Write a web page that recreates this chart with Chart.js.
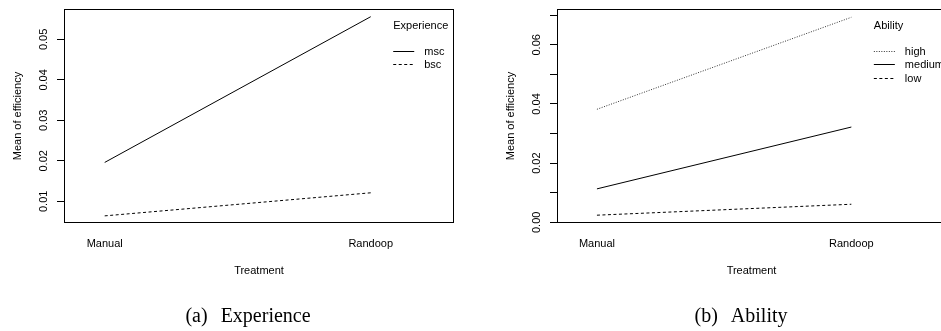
<!DOCTYPE html>
<html>
<head>
<meta charset="utf-8">
<script src="https://cdn.jsdelivr.net/npm/chart.js@4.4.1/dist/chart.umd.min.js"></script>
<style>
    html, body { margin: 0; padding: 0; background: #fff; overflow: hidden; }
    #wrap { position: relative; width: 941px; height: 331px; overflow: hidden; }
    canvas { position: absolute; top: 0; }
    #chart-exp { left: 0; }
    #chart-ability { left: 470px; }
    .cap {
        position: absolute; top: 305px; width: 240px; text-align: center;
        font: 20px "Liberation Serif", "Times New Roman", serif; line-height: 20px; color: #000;
    }
    .cap span { margin-left: 13px; }
</style>
</head>
<body>
<div id="wrap">
    <canvas id="chart-exp" width="470" height="331"></canvas>
    <canvas id="chart-ability" width="500" height="331"></canvas>
    <div class="cap" style="left:128px">(a)<span>Experience</span></div>
    <div class="cap" style="left:621px">(b)<span>Ability</span></div>
</div>
<script>
const treatments = ['Manual', 'Randoop'];
const treatmentPos = [1, 2];

// (a) experience
const experienceLevels = ['msc', 'bsc'];
const mscEfficiency = [0.0196, 0.0556];
const bscEfficiency = [0.0064, 0.0121];
const expTicks = [0.01, 0.02, 0.03, 0.04, 0.05];
const expTickLabels = ['0.01', '0.02', '0.03', '0.04', '0.05'];

// (b) ability
const abilityLevels = ['high', 'medium', 'low'];
const highEfficiency = [0.0382, 0.0693];
const mediumEfficiency = [0.0113, 0.0322];
const lowEfficiency = [0.0024, 0.0061];
const abilityTicks = [0, 0.01, 0.02, 0.03, 0.04, 0.05, 0.06, 0.07];
const abilityTickLabels = ['0.00', '', '0.02', '', '0.04', '', '0.06', ''];

const FONT = '"Liberation Sans", Arial, Helvetica, sans-serif';
Chart.defaults.font.family = FONT;
Chart.defaults.font.size = 11;
Chart.defaults.color = '#000';

function points(values) {
    return treatmentPos.map(function (x, i) {
        return { x: x, y: values[i] };
    });
}

function series(label, values, dash, color) {
    return {
        label: label,
        data: points(values),
        borderColor: color || '#000',
        borderWidth: 1,
        borderDash: dash,
        pointRadius: 0,
        fill: false,
        tension: 0,
    };
}

// box, rotated y labels (R style) and the legend inside the plot
const rFrame = {
    id: 'rFrame',
    afterDraw: function (chart, args, opts) {
        const ctx = chart.ctx;
        const a = chart.chartArea;
        const y = chart.scales.y;
        ctx.save();
        ctx.strokeStyle = '#000';
        ctx.lineWidth = 1;
        ctx.setLineDash([]);
        ctx.strokeRect(a.left + 0.5, a.top + 0.5, a.right - a.left - 1, a.bottom - a.top - 1);

        ctx.font = '11px ' + FONT;
        ctx.fillStyle = '#000';
        ctx.textAlign = 'center';
        ctx.textBaseline = 'middle';
        opts.ticks.forEach(function (v, i) {
            const text = opts.labels[i];
            if (!text) {
                return;
            }
            ctx.save();
            ctx.translate(a.left - 20, y.getPixelForValue(v));
            ctx.rotate(-Math.PI / 2);
            ctx.fillText(text, 0, 0);
            ctx.restore();
        });

        const lx = chart.scales.x.getPixelForValue(treatmentPos[1]) + 22.5;
        ctx.textAlign = 'left';
        ctx.fillText(opts.title, lx, a.top + 17);
        chart.data.datasets.forEach(function (ds, i) {
            const ly = Math.round(a.top + 42 + i * 13.4) + 0.5;
            ctx.strokeStyle = ds.borderColor;
            ctx.setLineDash(ds.borderDash || []);
            ctx.beginPath();
            ctx.moveTo(lx, ly);
            ctx.lineTo(lx + 21, ly);
            ctx.stroke();
            ctx.fillText(ds.label, lx + 31, ly);
        });
        ctx.restore();
    },
};

function makeChart(id, datasets, cfg) {
    return new Chart(document.getElementById(id).getContext('2d'), {
        type: 'line',
        data: { datasets: datasets },
        plugins: [rFrame],
        options: {
            responsive: false,
            animation: false,
            devicePixelRatio: 1,
            layout: { padding: { top: 9, right: cfg.padRight, bottom: 0, left: 0 } },
            plugins: {
                legend: { display: false },
                tooltip: { enabled: false },
                rFrame: { title: cfg.legendTitle, ticks: cfg.ticks, labels: cfg.labels },
            },
            scales: {
                x: {
                    type: 'linear',
                    min: cfg.xMin,
                    max: cfg.xMax,
                    afterBuildTicks: function (scale) {
                        scale.ticks = treatmentPos.map(function (v) { return { value: v }; });
                    },
                    afterFit: function (scale) { scale.height = 108; },
                    ticks: {
                        autoSkip: false,
                        maxRotation: 0,
                        padding: 14,
                        font: { size: 11 },
                        callback: function (v) { return treatments[treatmentPos.indexOf(v)]; },
                    },
                    grid: { display: false, drawTicks: false },
                    border: { display: false },
                    title: { display: true, text: 'Treatment', font: { size: 11 }, padding: { top: 0, bottom: 53 } },
                },
                y: {
                    type: 'linear',
                    min: cfg.yMin,
                    max: cfg.yMax,
                    afterBuildTicks: function (scale) {
                        scale.ticks = cfg.ticks.map(function (v) { return { value: v }; });
                    },
                    afterFit: function (scale) { scale.width = cfg.yWidth; },
                    ticks: { display: false },
                    grid: { drawOnChartArea: false, drawTicks: true, tickLength: 7, color: '#000', lineWidth: 1 },
                    border: { display: false },
                    title: { display: true, text: 'Mean of efficiency', font: { size: 11 }, padding: { top: cfg.titlePad, bottom: 0 } },
                },
            },
        },
    });
}

makeChart('chart-exp', [
    series(experienceLevels[0], mscEfficiency, []),
    series(experienceLevels[1], bscEfficiency, [3, 2.5]),
], {
    legendTitle: 'Experience',
    ticks: expTicks,
    labels: expTickLabels,
    xMin: 0.847, xMax: 2.313,
    yMin: 0.00464, yMax: 0.0575,
    yWidth: 64, padRight: 16, titlePad: 11,
});

makeChart('chart-ability', [
    series(abilityLevels[0], highEfficiency, [1, 1.5], '#333'),
    series(abilityLevels[1], mediumEfficiency, []),
    series(abilityLevels[2], lowEfficiency, [3, 2.5]),
], {
    legendTitle: 'Ability',
    ticks: abilityTicks,
    labels: abilityTickLabels,
    xMin: 0.843, xMax: 2.372,
    yMin: -0.00024, yMax: 0.0721,
    yWidth: 87, padRight: 24, titlePad: 34.5,
});
</script>
</body>
</html>
